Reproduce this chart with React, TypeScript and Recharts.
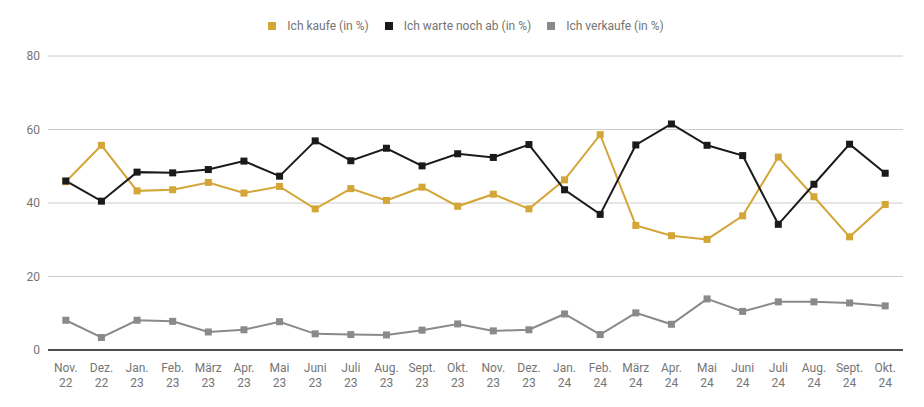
import { LineChart, Line, XAxis, YAxis, CartesianGrid } from 'recharts';

const MONTHS = [
  'Nov. 22', 'Dez. 22', 'Jan. 23', 'Feb. 23', 'März 23', 'Apr. 23', 'Mai 23', 'Juni 23',
  'Juli 23', 'Aug. 23', 'Sept. 23', 'Okt. 23', 'Nov. 23', 'Dez. 23', 'Jan. 24', 'Feb. 24',
  'März 24', 'Apr. 24', 'Mai 24', 'Juni 24', 'Juli 24', 'Aug. 24', 'Sept. 24', 'Okt. 24',
];

const KAUFE = [
  45.8, 55.7, 43.3, 43.6, 45.6, 42.7, 44.5, 38.4, 43.9, 40.7, 44.3, 39.1,
  42.4, 38.4, 46.3, 58.6, 33.9, 31.1, 30.1, 36.5, 52.5, 41.7, 30.8, 39.6,
];

const WARTE = [
  46.0, 40.5, 48.4, 48.2, 49.1, 51.4, 47.3, 56.9, 51.5, 54.9, 50.1, 53.4,
  52.4, 55.9, 43.6, 36.9, 55.8, 61.5, 55.7, 52.9, 34.2, 45.1, 56.0, 48.1,
];

const VERKAUFE = [
  8.1, 3.4, 8.1, 7.8, 4.9, 5.5, 7.7, 4.4, 4.2, 4.1, 5.4, 7.1,
  5.2, 5.5, 9.8, 4.2, 10.1, 7.0, 13.9, 10.5, 13.1, 13.1, 12.8, 12.0,
];

const Y_TICKS = [0, 20, 40, 60, 80];

const SERIES = [
  { key: 'kaufe', name: 'Ich kaufe (in %)', color: '#d4a537' },
  { key: 'warte', name: 'Ich warte noch ab (in %)', color: '#1a1a1a' },
  { key: 'verkaufe', name: 'Ich verkaufe (in %)', color: '#8a8a8a' },
];

const chartData = MONTHS.map((month, i) => ({
  month,
  kaufe: KAUFE[i],
  warte: WARTE[i],
  verkaufe: VERKAUFE[i],
}));

const FONT = 'Roboto, "Noto Sans", sans-serif';
const TEXT = '#757575';

const SquareDot = ({ cx, cy, stroke }: any) => {
  if (cx == null || cy == null) return null;
  return <rect x={cx - 3.5} y={cy - 3.5} width={7} height={7} fill={stroke} />;
};

const MonthTick = ({ x, y, payload }: any) => {
  const [m, yr] = String(payload.value).split(' ');
  return (
    <text x={x} y={y} textAnchor="middle" fill={TEXT} fontSize={12} fontFamily={FONT}>
      <tspan x={x} dy={14}>{m}</tspan>
      <tspan x={x} dy={15}>{yr}</tspan>
    </text>
  );
};

export default function App() {
  return (
    <div style={{ position: 'absolute', left: 0, top: 0, width: 924, height: 407, background: '#fff' }}>
      <div
        style={{
          position: 'absolute',
          top: 19,
          left: 0,
          width: 924,
          display: 'flex',
          justifyContent: 'center',
          fontFamily: FONT,
          fontSize: 12,
          color: TEXT,
          paddingLeft: 4,
        }}
      >
        {SERIES.map(s => (
          <div key={s.key} style={{ display: 'flex', alignItems: 'center', margin: '0 8px' }}>
            <span style={{ width: 8, height: 8, background: s.color, display: 'inline-block', marginRight: 11 }} />
            <span>{s.name}</span>
          </div>
        ))}
      </div>
      <LineChart width={924} height={407} data={chartData} margin={{ top: 56, right: 21, left: 8, bottom: 17 }}>
        <CartesianGrid vertical={false} stroke="#cccccc" />
        <XAxis
          dataKey="month"
          scale="band"
          interval={0}
          tick={<MonthTick />}
          tickLine={false}
          axisLine={{ stroke: '#1a1a1a', strokeWidth: 1.5 }}
          height={40}
        />
        <YAxis
          domain={[0, 80]}
          ticks={Y_TICKS}
          width={40}
          axisLine={false}
          tickLine={false}
          tick={{ fill: TEXT, fontSize: 12, fontFamily: FONT }}
        />
        {SERIES.map(s => (
          <Line
            key={s.key}
            dataKey={s.key}
            name={s.name}
            type="linear"
            stroke={s.color}
            strokeWidth={2}
            dot={<SquareDot />}
            activeDot={false}
            isAnimationActive={false}
          />
        ))}
      </LineChart>
    </div>
  );
}
